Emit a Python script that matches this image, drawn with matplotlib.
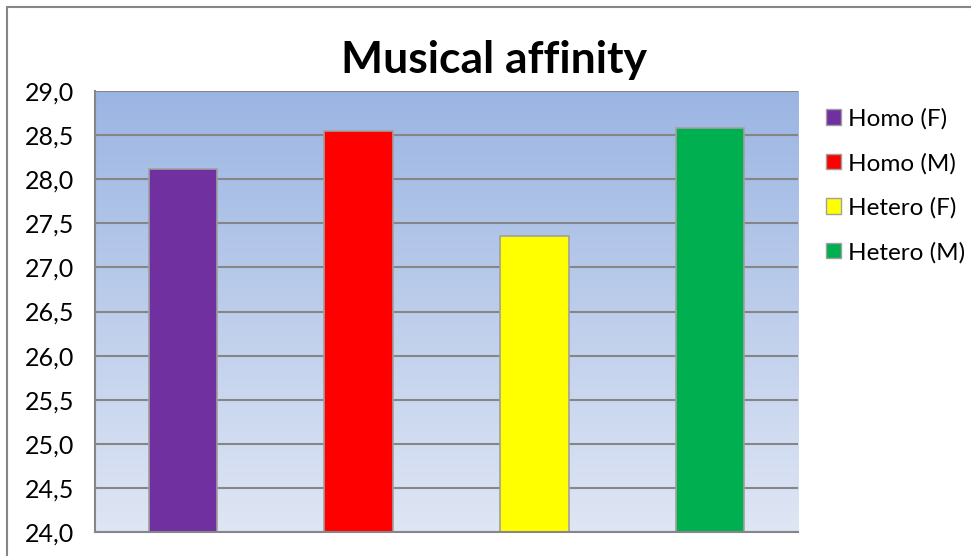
import numpy as np
import matplotlib
matplotlib.use("Agg")
import matplotlib.pyplot as plt
from matplotlib.patches import Patch, Rectangle
from matplotlib.ticker import FuncFormatter, MultipleLocator
from matplotlib.colors import LinearSegmentedColormap

categories = ["Homo (F)", "Homo (M)", "Hetero (F)", "Hetero (M)"]
values = [28.12, 28.55, 27.36, 28.58]
colors = ["#7030A0", "#FF0000", "#FFFF00", "#00B050"]
title = "Musical affinity"
y_min, y_max, y_step = 24.0, 29.0, 0.5

plt.rcParams['font.family'] = ['Lato', 'DejaVu Sans']

W, H = 971, 556
fig = plt.figure(figsize=(W / 100, H / 100), dpi=100)
ax = fig.add_axes([95 / W, 1 - 532 / H, (798 - 95) / W, (532 - 91) / H])

# gradient background
grad = np.linspace(0, 1, 256).reshape(-1, 1)
cmap = LinearSegmentedColormap.from_list("bg", ["#dfe6f4", "#9bb5e3"])
ax.imshow(grad, aspect="auto", cmap=cmap, origin="lower",
          extent=[-0.5, len(categories) - 0.5, y_min, y_max], zorder=0)

x = np.arange(len(categories))
ax.set_xlim(-0.5, len(categories) - 0.5)
ax.set_ylim(y_min, y_max)
ax.yaxis.set_major_locator(MultipleLocator(y_step))
ax.set_axisbelow("line")
ax.grid(axis="y", color="#868686", linewidth=1.5)
ax.bar(x, [v - y_min for v in values], bottom=y_min, width=0.39,
       color=colors, edgecolor="#a0a0a0", linewidth=1.2, zorder=2)

ax.yaxis.set_major_formatter(FuncFormatter(lambda v, p: f"{v:.1f}".replace(".", ",")))
ax.tick_params(axis="y", length=0, labelsize=18, pad=15)
ax.set_xticks([])
for s in ["top", "right"]:
    ax.spines[s].set_visible(False)
for s in ["left", "bottom"]:
    ax.spines[s].set_color("#868686")
    ax.spines[s].set_linewidth(1.5)
    ax.spines[s].set_zorder(3)

fig.text(494 / W, 1 - 60 / H, title, ha="center", va="center",
         fontsize=32, fontweight="bold")

handles = [Patch(facecolor=c, edgecolor="#a0a0a0", label=l) for c, l in zip(colors, categories)]
fig.legend(handles=handles, loc="upper left", bbox_to_anchor=(826 / W, 1 - 108 / H),
           frameon=False, fontsize=17.5, handlelength=0.6, handleheight=0.6,
           handletextpad=0.3, labelspacing=0.95, borderpad=0, borderaxespad=0)

# outer chart border (cropped on right and bottom in the reference)
fig.patches.append(Rectangle((7 / W, -0.1), 1.2, 1.1 - 7 / H,
                             transform=fig.transFigure, fill=False,
                             edgecolor="#868686", linewidth=1.5))

fig.savefig("out.png", dpi=100)
